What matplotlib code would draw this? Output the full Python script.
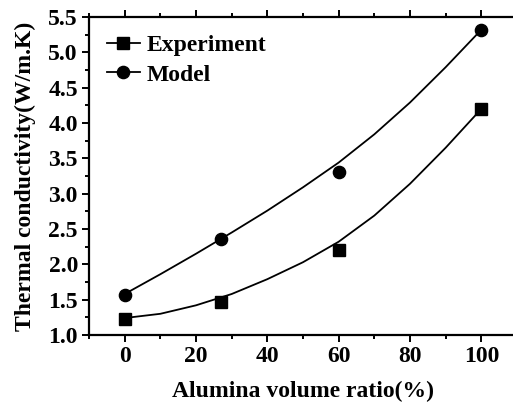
import matplotlib.pyplot as plt
from matplotlib.ticker import MultipleLocator, FormatStrFormatter

plt.rcParams['font.family'] = ['Liberation Serif', 'DejaVu Serif']
plt.rcParams['font.weight'] = 'bold'

# measured points
ratio = [0, 27, 60, 100]
experiment = [1.22, 1.46, 2.20, 4.20]
model = [1.57, 2.36, 3.30, 5.32]

# smooth fit curves, every 10 %
curve_x = [0, 10, 20, 30, 40, 50, 60, 70, 80, 90, 100]
exp_curve = [1.24, 1.30, 1.42, 1.58, 1.79, 2.03, 2.32, 2.69, 3.14, 3.65, 4.20]
model_curve = [1.58, 1.86, 2.15, 2.45, 2.76, 3.09, 3.44, 3.84, 4.29, 4.79, 5.32]

fig = plt.figure(figsize=(5.13, 4.05), dpi=100)
ax = fig.add_axes([89/513, 70/405, 428/513, 318/405])

ax.plot(curve_x, exp_curve, 'k-', lw=1.3)
ax.plot(curve_x, model_curve, 'k-', lw=1.3)
ax.plot(ratio, experiment, 'ks', ms=8.3, ls='none')
ax.plot(ratio, model, 'ko', ms=8.8, ls='none')

# legend entries: line through marker
ax.plot([], [], 'k-s', ms=8.3, lw=1.3, label='Experiment')
ax.plot([], [], 'k-o', ms=8.8, lw=1.3, label='Model')
ax.legend(loc='upper left', frameon=False, handlelength=1.4,
          handletextpad=0.3, borderaxespad=0.35, borderpad=0.4,
          labelspacing=0.33, prop={'weight': 'bold', 'size': 17})

ax.set_xlim(-10, 110)
ax.set_ylim(1.0, 5.5)
ax.xaxis.set_major_locator(MultipleLocator(20))
ax.xaxis.set_minor_locator(MultipleLocator(10))
ax.yaxis.set_major_locator(MultipleLocator(0.5))
ax.yaxis.set_minor_locator(MultipleLocator(0.25))
ax.set_xticks([0, 20, 40, 60, 80, 100])
ax.yaxis.set_major_formatter(FormatStrFormatter('%.1f'))

for s in ax.spines.values():
    s.set_linewidth(1.6)
ax.tick_params(which='both', direction='out', width=1.4, labelsize=17, pad=3)
ax.tick_params(which='major', length=5)
ax.tick_params(which='minor', length=3)
ax.tick_params(axis='x', which='both', top=True, labeltop=False)
ax.tick_params(axis='x', which='both', top=True, bottom=False, direction='in', length=2.5, width=1)
ax.tick_params(axis='x', which='major', bottom=True, direction='out', length=5, width=1.4)
ax.tick_params(axis='x', which='minor', bottom=True, direction='out', length=3, width=1.4)
for lab in ax.get_xticklabels() + ax.get_yticklabels():
    lab.set_fontweight('bold')

ax.set_xlabel('Alumina volume ratio(%)', fontsize=17, fontweight='bold', labelpad=10)
ax.set_ylabel('Thermal conductivity(W/m.K)', fontsize=17, fontweight='bold', labelpad=9)

fig.savefig('out.png', dpi=100)
